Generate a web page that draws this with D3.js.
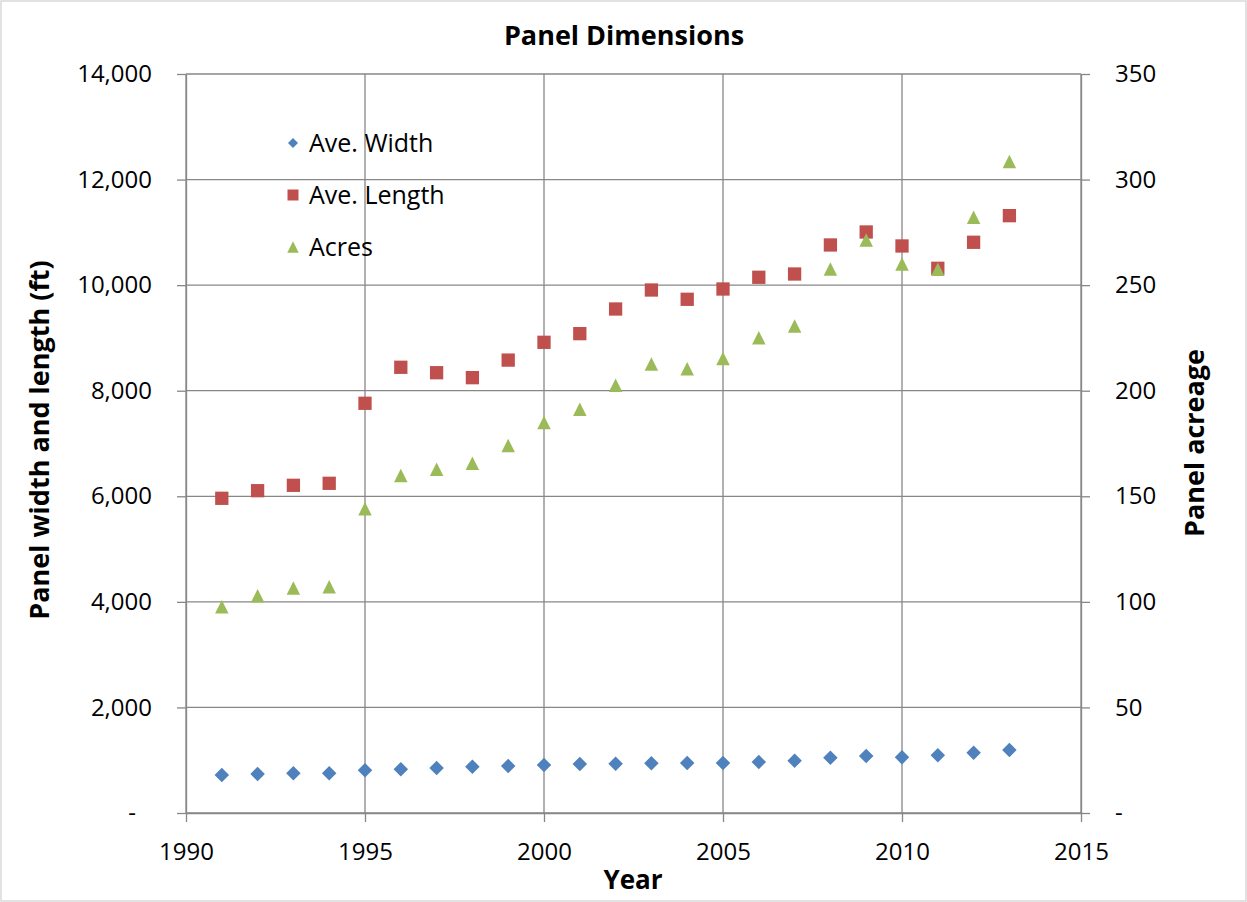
<!DOCTYPE html>
<html><head><meta charset="utf-8">
<script src="https://cdn.jsdelivr.net/npm/d3@7"></script>
<style>body{margin:0;background:#fff}svg{display:block}</style>
</head><body><svg id="c" width="1247" height="902"></svg>
<script>
const years = [1991,1992,1993,1994,1995,1996,1997,1998,1999,2000,2001,2002,2003,2004,2005,2006,2007,2008,2009,2010,2011,2012,2013];
const aveWidth = [720,739,752,752,808,827,852,878,890,909,928,934,941,947,947,966,991,1048,1080,1055,1093,1143,1194];
const aveLength = [5962,6106,6208,6246,7762,8444,8341,8247,8580,8917,9081,9548,9908,9732,9927,10149,10211,10761,11007,10742,10319,10812,11316];
const acres = [97.7,102.9,106.6,107.2,144.1,159.8,162.8,165.6,174.1,185.0,191.2,202.6,212.6,210.4,215.2,225.1,230.7,257.6,271.4,260.0,257.5,282.1,308.5];
const xTicks = [1990,1995,2000,2005,2010,2015];
const yLeftTicks = [0,2000,4000,6000,8000,10000,12000,14000];
const yRightTicks = [0,50,100,150,200,250,300,350];
const seriesNames = ["Ave. Width","Ave. Length","Acres"];
const colors = ["#4F81BD","#C0504D","#9BBB59"];

const font = "'Open Sans', 'Noto Sans', sans-serif";
const svg = d3.select("#c");
const L=186,R=1081,T=74,B=813;
const x = d3.scaleLinear().domain([1990,2015]).range([L,R]);
const yL = d3.scaleLinear().domain([0,14000]).range([B,T]);
const yR = d3.scaleLinear().domain([0,350]).range([B,T]);

svg.append("rect").attr("x",1).attr("y",1).attr("width",1245).attr("height",900).attr("fill","#fff").attr("stroke","#D9D9D9").attr("stroke-width",1.5);

const grid = svg.append("g").attr("stroke","#878787").attr("stroke-width",1.3);
yLeftTicks.forEach(v=>grid.append("line").attr("x1",L).attr("x2",R).attr("y1",yL(v)).attr("y2",yL(v)));
xTicks.forEach(v=>grid.append("line").attr("x1",x(v)).attr("x2",x(v)).attr("y1",T).attr("y2",B));

const fmtL = v => v===0 ? "-" : d3.format(",")(v);
const fmtR = v => v===0 ? "-" : String(v);

const gx = svg.append("g").attr("transform",`translate(0,${B})`)
  .call(d3.axisBottom(x).tickValues(xTicks).tickFormat(d3.format("d")).tickSize(9).tickSizeOuter(0).tickPadding(21));
const gl = svg.append("g").attr("transform",`translate(${L},0)`)
  .call(d3.axisLeft(yL).tickValues(yLeftTicks).tickFormat(fmtL).tickSize(9).tickSizeOuter(0).tickPadding(25));
const gr = svg.append("g").attr("transform",`translate(${R},0)`)
  .call(d3.axisRight(yR).tickValues(yRightTicks).tickFormat(fmtR).tickSize(9).tickSizeOuter(0).tickPadding(25));
[gx,gl,gr].forEach(g=>{
  g.selectAll("path").attr("stroke","#878787").attr("stroke-width",1.3);
  g.selectAll("line").attr("stroke","#878787").attr("stroke-width",1.3);
  g.selectAll("text").attr("font-family",font).attr("font-size",24).attr("fill","#000");
});
gl.selectAll("text").filter(d=>d===0).attr("dx",-16);

// custom marker types
const diamond = {draw(ctx,size){const r=Math.sqrt(size)/2; ctx.moveTo(0,-r);ctx.lineTo(r,0);ctx.lineTo(0,r);ctx.lineTo(-r,0);ctx.closePath();}};
const square = {draw(ctx,size){const h=Math.sqrt(size)/2; ctx.rect(-h,-h,2*h,2*h);}};
const triangle = {draw(ctx,size){const h=Math.sqrt(size)/2; ctx.moveTo(0,-h);ctx.lineTo(h,h);ctx.lineTo(-h,h);ctx.closePath();}};
const sym = [diamond, square, triangle];
const sizes = [14.5*14.5, 13.3*13.3, 13.5*13.5];
const legSizes = [10*10, 11*11, 11.5*11.5];
const data = [aveWidth, aveLength, acres];
const scales = [yL, yL, yR];
data.forEach((arr,i)=>{
  const gen = d3.symbol().type(sym[i]).size(sizes[i]);
  svg.append("g").selectAll("path").data(arr).join("path")
    .attr("d",gen)
    .attr("transform",(d,j)=>`translate(${x(years[j])},${scales[i](d)})`)
    .attr("fill",colors[i]);
});

// legend
const leg = svg.append("g");
seriesNames.forEach((n,i)=>{
  const yy = 143 + i*52;
  leg.append("path").attr("d",d3.symbol().type(sym[i]).size(legSizes[i])).attr("transform",`translate(293,${yy})`).attr("fill",colors[i]);
  leg.append("text").attr("x",309).attr("y",yy).attr("dy","0.35em").attr("font-family",font).attr("font-size",25).attr("fill","#000").text(n);
});

svg.append("text").attr("x",624).attr("y",36).attr("dy","0.35em").attr("text-anchor","middle")
  .attr("font-family",font).attr("font-weight","bold").attr("font-size",27).text("Panel Dimensions");
svg.append("text").attr("x",633).attr("y",880).attr("dy","0.35em").attr("text-anchor","middle")
  .attr("font-family",font).attr("font-weight","bold").attr("font-size",26).text("Year");
svg.append("text").attr("transform","translate(40,440) rotate(-90)").attr("dy","0.35em").attr("text-anchor","middle")
  .attr("font-family",font).attr("font-weight","bold").attr("font-size",27).text("Panel width and length (ft)");
svg.append("text").attr("transform","translate(1195,443) rotate(-90)").attr("dy","0.35em").attr("text-anchor","middle")
  .attr("font-family",font).attr("font-weight","bold").attr("font-size",27).text("Panel acreage");
</script></body></html>
